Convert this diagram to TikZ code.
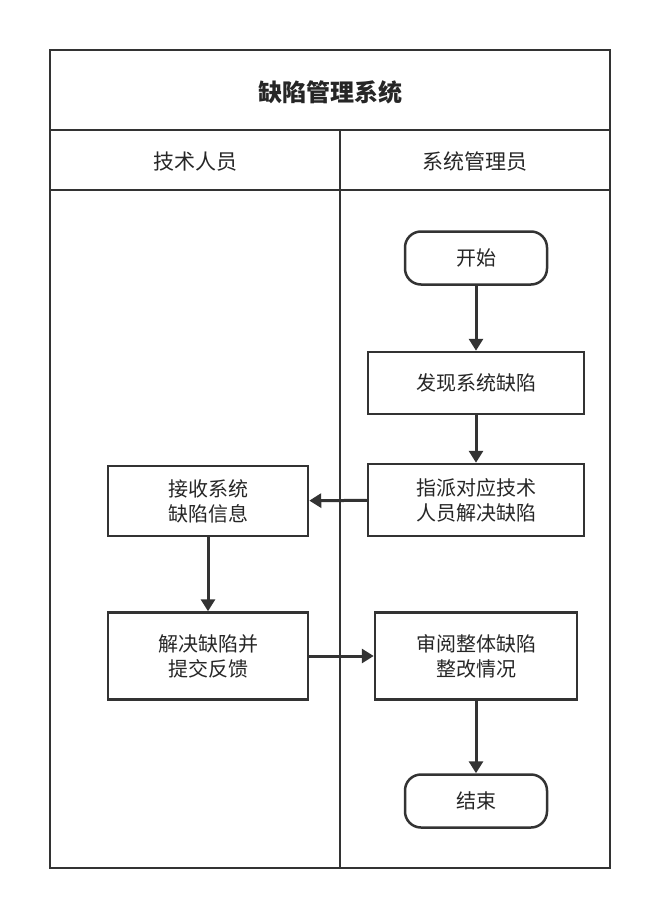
\documentclass[tikz,border=0pt]{standalone}
\usepackage{fontspec}
\setmainfont{Noto Sans CJK SC}
\usetikzlibrary{arrows.meta}
\begin{document}
\begin{tikzpicture}[x=1pt,y=-1pt,
  lane/.style={draw=black!80,line width=2.5pt},
  box/.style={draw=black!80,line width=2.5pt,fill=white,inner sep=0pt,align=center,font=\fontsize{20}{25}\selectfont,text=black!85},
  term/.style={box,rounded corners=16pt},
  arr/.style={draw=black!80,line width=3pt,-{Triangle[length=12pt,width=14pt]}}]
\useasboundingbox (0,0) rectangle (661,918);
\draw[lane] (50,50) rectangle (610,868);
\draw[lane] (50,130) -- (610,130);
\draw[lane] (50,190) -- (610,190);
\draw[lane] (340,130) -- (340,868);
\node[font=\fontsize{24}{28}\selectfont\bfseries,text=black!85] (title) at (330,92) {缺陷管理系统};
\node[font=\fontsize{21}{25}\selectfont,text=black!85] (h1) at (195,162) {技术人员};
\node[font=\fontsize{21}{25}\selectfont,text=black!85] (h2) at (475,162) {系统管理员};
\node[term,minimum width=142pt,minimum height=53pt] (start) at (476,258) {开始};
\node[box,minimum width=216pt,minimum height=62pt] (find) at (476,383) {发现系统缺陷};
\node[box,minimum width=216pt,minimum height=72pt] (assign) at (476,500) {指派对应技术\\人员解决缺陷};
\node[box,minimum width=200pt,minimum height=70pt] (recv) at (208,501) {接收系统\\缺陷信息};
\node[box,minimum width=200pt,minimum height=87pt] (solve) at (208,656) {解决缺陷并\\提交反馈};
\node[box,minimum width=202pt,minimum height=87pt] (review) at (476,656) {审阅整体缺陷\\整改情况};
\node[term,minimum width=142pt,minimum height=53pt] (end) at (476,801) {结束};
\draw[arr] (start) -- (find);
\draw[arr] (find) -- (assign);
\draw[arr] (assign) -- (recv);
\draw[arr] (recv) -- (solve);
\draw[arr] (solve) -- (review);
\draw[arr] (review) -- (end);
\end{tikzpicture}
\end{document}
